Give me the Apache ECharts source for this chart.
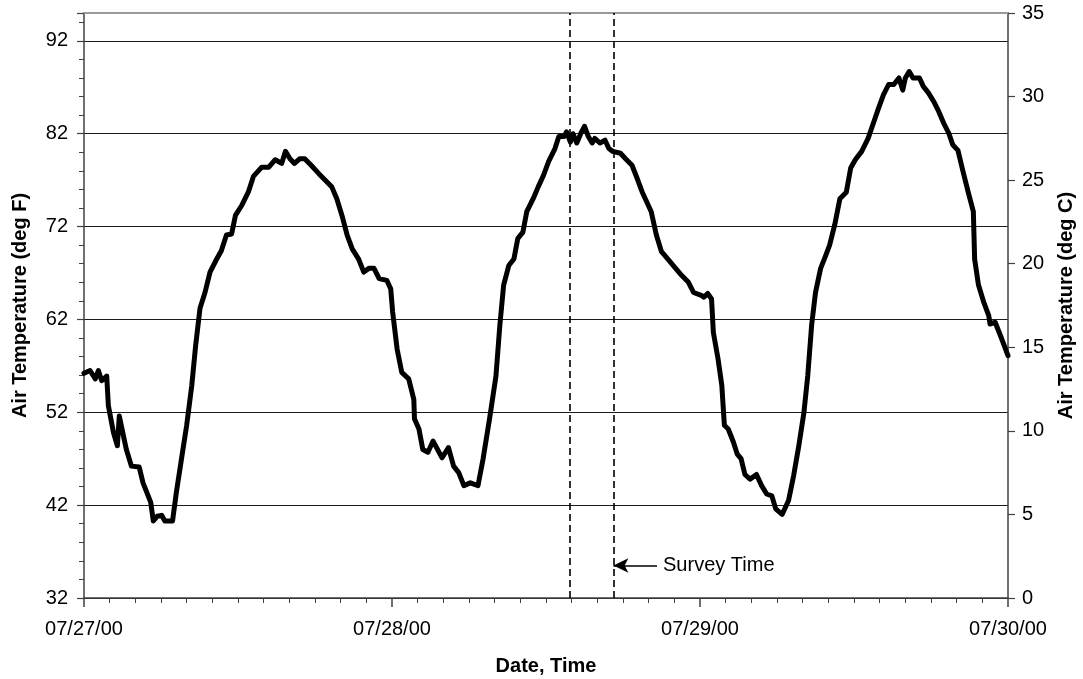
<!DOCTYPE html>
<html>
<head>
<meta charset="utf-8">
<script src="https://cdn.jsdelivr.net/npm/echarts@6/dist/echarts.min.js"></script>
<style>
  html, body { margin: 0; padding: 0; background: #fff; }
  #chart { width: 1083px; height: 679px; }
</style>
</head>
<body>
<div id="chart"></div>
<script>
// hours since 07/27/00 00:00 and air temperature (deg F)
const hours = [
  0.0, 0.47, 0.88, 1.12, 1.38, 1.77, 1.9, 2.3, 2.6, 2.75, 2.9, 3.3, 3.7, 4.3, 4.6, 5.2, 5.4, 5.7, 6.05, 6.3, 6.9,
  7.2, 7.6, 8.0, 8.4, 8.7, 9.04, 9.43, 9.82, 10.3, 10.7, 11.1, 11.5, 11.8, 12.3, 12.8, 13.2, 13.85, 14.4, 14.9,
  15.4, 15.7, 16.05, 16.4, 16.8, 17.2, 17.7, 18.3, 18.8, 19.3, 19.7, 20.1, 20.5, 20.9, 21.4, 21.8, 22.2, 22.6,
  23.0, 23.6, 23.9, 24.05, 24.4, 24.76, 25.3, 25.7, 25.75, 26.1, 26.4, 26.8, 27.2, 27.9, 28.4, 28.8, 29.2, 29.6,
  30.1, 30.7, 31.1, 31.6, 32.1, 32.4, 32.7, 33.1, 33.5, 33.8, 34.2, 34.5, 35.0, 35.4, 35.8, 36.2, 36.7, 37.0,
  37.4, 37.6, 37.9, 38.1, 38.4, 38.7, 39.0, 39.3, 39.6, 39.8, 40.2, 40.6, 40.9, 41.2, 41.8, 42.2, 42.7, 43.1,
  43.5, 43.8, 44.2, 44.6, 45.0, 45.5, 46.1, 46.6, 47.1, 47.5, 48.1, 48.3, 48.6, 48.9, 49.04, 49.4, 49.7, 49.9,
  50.2, 50.6, 50.9, 51.2, 51.5, 51.9, 52.4, 52.8, 53.2, 53.6, 53.9, 54.4, 54.9, 55.3, 55.7, 56.1, 56.4, 56.7,
  57.0, 57.4, 57.8, 58.1, 58.5, 58.9, 59.4, 59.74, 60.1, 60.6, 61.1, 61.5, 61.9, 62.3, 62.7, 63.1, 63.5, 63.8,
  64.0, 64.3, 64.6, 65.1, 65.4, 65.8, 66.2, 66.6, 67.0, 67.4, 67.7, 68.1, 68.5, 68.9, 69.3, 69.4, 69.7, 70.1,
  70.5, 70.6, 71.0, 71.4, 71.7, 72.0
];
const tempF = [
  56.2, 56.5, 55.6, 56.5, 55.4, 55.9, 52.7, 49.8, 48.4, 51.6, 50.6, 48.0, 46.2, 46.1, 44.4, 42.3, 40.3, 40.8, 40.9, 40.3, 40.3,
  43.4, 47.0, 50.6, 54.9, 59.2, 63.2, 64.9, 67.1, 68.4, 69.4, 71.1, 71.2, 73.2, 74.3, 75.7, 77.4, 78.4, 78.4, 79.2,
  78.8, 80.1, 79.3, 78.8, 79.3, 79.3, 78.6, 77.7, 77.0, 76.3, 75.0, 73.2, 71.1, 69.6, 68.5, 67.1, 67.5, 67.5,
  66.4, 66.2, 65.3, 62.8, 58.8, 56.3, 55.6, 53.4, 51.3, 50.2, 48.0, 47.7, 48.9, 47.1, 48.2, 46.2, 45.5, 44.1,
  44.4, 44.1, 47.0, 51.3, 55.9, 61.3, 65.7, 67.8, 68.5, 70.7, 71.4, 73.6, 75.0, 76.3, 77.5, 79.0, 80.4, 81.7,
  81.7, 82.2, 81.1, 82.0, 81.0, 82.0, 82.8, 81.7, 81.0, 81.5, 81.0, 81.3, 80.4, 80.1, 79.9, 79.3, 78.6, 77.2,
  75.7, 74.8, 73.6, 71.1, 69.3, 68.5, 67.5, 66.7, 66.0, 64.9, 64.6, 64.4, 64.8, 64.2, 60.6, 57.8, 54.9, 50.6,
  50.2, 48.8, 47.5, 47.0, 45.3, 44.8, 45.3, 44.1, 43.2, 43.0, 41.6, 41.0, 42.5, 45.2, 48.4, 52.0, 56.0, 61.4,
  64.9, 67.5, 68.9, 70.0, 72.2, 75.0, 75.7, 78.3, 79.2, 80.1, 81.5, 83.1, 84.7, 86.2, 87.3, 87.3, 88.0, 86.7,
  88.0, 88.7, 88.0, 88.0, 87.1, 86.4, 85.5, 84.4, 83.1, 82.0, 80.8, 80.2, 77.9, 75.7, 73.6, 68.5, 65.7, 63.9,
  62.4, 61.5, 61.7, 60.3, 59.2, 58.1
];
const dayLabels = ["07/27/00", "07/28/00", "07/29/00", "07/30/00"];
const surveyHours = [37.87, 41.25];
const surveyLabel = "Survey Time";
const arrowAt = { from: 44.65, to: 41.25, tempF: 35.5 };

const font = "'Liberation Sans', Arial, sans-serif";
const axisGray = "#404040";

const chart = echarts.init(document.getElementById("chart"));

const option = {
  animation: false,
  backgroundColor: "#fff",
  textStyle: { fontFamily: font, color: "#000" },
  grid: { left: 84, right: 75, top: 13, bottom: 81, outerBoundsMode: "none" },
  xAxis: [
    {
      type: "value",
      position: "bottom",
      min: 0,
      max: 72,
      interval: 24,
      name: "Date, Time",
      nameLocation: "middle",
      nameGap: 58,
      nameTextStyle: { fontSize: 20, fontWeight: "bold", color: "#000", fontFamily: font },
      axisLine: { onZero: false, lineStyle: { color: axisGray, width: 1.5 } },
      axisTick: { length: 9, lineStyle: { color: axisGray, width: 1.5 } },
      minorTick: { show: true, splitNumber: 12, length: 5, lineStyle: { color: axisGray, width: 1 } },
      axisLabel: {
        margin: 21,
        fontSize: 20,
        color: "#000",
        fontFamily: font,
        formatter: (v) => dayLabels[Math.round(v / 24)] || "",
      },
      splitLine: { show: false },
    },
    {
      // grey top border of the plot
      type: "value",
      position: "top",
      min: 0,
      max: 72,
      axisLine: { show: true, onZero: false, lineStyle: { color: "#9a9a9a", width: 2 } },
      axisTick: { show: false },
      axisLabel: { show: false },
      splitLine: { show: false },
    },
  ],
  yAxis: [
    {
      type: "value",
      position: "left",
      min: 32,
      max: 95,
      interval: 10,
      name: "Air Temperature (deg F)",
      nameLocation: "middle",
      nameRotate: 90,
      nameGap: 54,
      nameTextStyle: { fontSize: 20, fontWeight: "bold", color: "#000", fontFamily: font },
      axisLine: { show: true, onZero: false, lineStyle: { color: axisGray, width: 1.5 } },
      axisTick: { show: true, length: 7, lineStyle: { color: axisGray, width: 1.2 } },
      minorTick: { show: true, splitNumber: 5, length: 5, lineStyle: { color: axisGray, width: 1 } },
      axisLabel: { margin: 16, fontSize: 20, color: "#000", fontFamily: font, showMaxLabel: false },
      splitLine: { show: true, lineStyle: { color: "#1a1a1a", width: 1 } },
    },
    {
      type: "value",
      position: "right",
      min: 0,
      max: 35,
      interval: 5,
      name: "Air Temperature (deg C)",
      nameLocation: "middle",
      nameRotate: 90,
      nameGap: 48,
      nameTextStyle: { fontSize: 20, fontWeight: "bold", color: "#000", fontFamily: font },
      axisLine: { show: true, onZero: false, lineStyle: { color: axisGray, width: 1.5 } },
      axisTick: { show: true, length: 7, lineStyle: { color: axisGray, width: 1.2 } },
      axisLabel: { margin: 14, fontSize: 20, color: "#000", fontFamily: font },
      splitLine: { show: false },
    },
  ],
  series: [
    {
      name: "Air Temperature",
      type: "line",
      xAxisIndex: 0,
      yAxisIndex: 0,
      data: hours.map((h, i) => [h, tempF[i]]),
      showSymbol: false,
      lineStyle: { color: "#000", width: 5, join: "round", cap: "round" },
      z: 5,
      markLine: {
        silent: true,
        symbol: "none",
        label: { show: false },
        lineStyle: { color: "#000", width: 1.6, type: [7, 4] },
        data: surveyHours.map((h) => ({ xAxis: h })),
      },
    },
    {
      name: "annotation",
      type: "line",
      xAxisIndex: 0,
      yAxisIndex: 0,
      data: [],
      markLine: {
        silent: true,
        symbol: ["arrow", "none"],
        symbolSize: [11, 15],
        lineStyle: { color: "#000", width: 1.5, type: "solid" },
        label: {
          show: true,
          position: "end",
          distance: 6,
          formatter: surveyLabel,
          fontSize: 20,
          color: "#000",
          fontFamily: font,
        },
        data: [[
          { coord: [arrowAt.to, arrowAt.tempF] },
          { coord: [arrowAt.from, arrowAt.tempF] },
        ]],
      },
    },
  ],
};

chart.setOption(option);
</script>
</body>
</html>
